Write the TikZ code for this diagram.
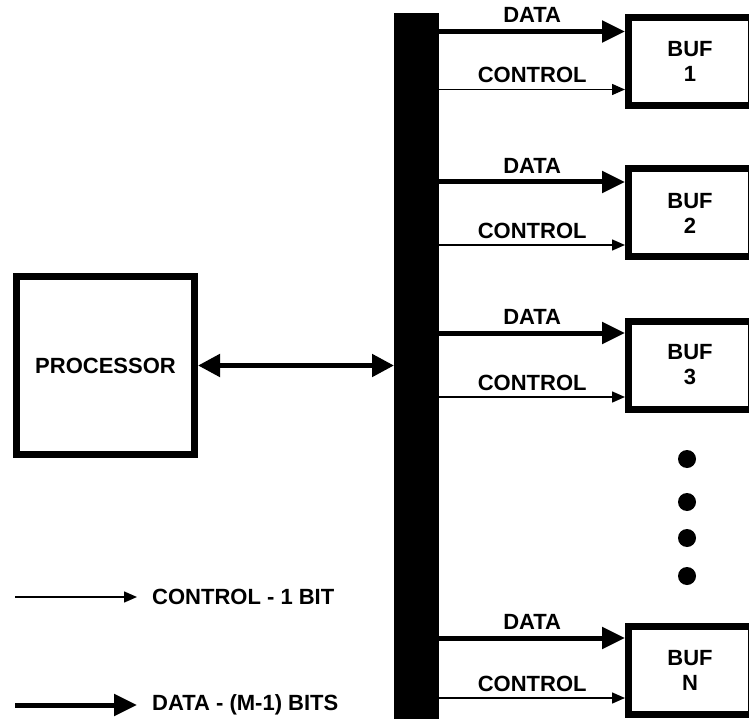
\documentclass[tikz,border=0pt]{standalone}
\usepackage{fontspec}
\setmainfont{Liberation Sans}
\usetikzlibrary{positioning,arrows.meta}

\begin{document}
\begin{tikzpicture}[x=1pt,y=-1pt,
  font=\fontsize{22}{25}\selectfont\bfseries,
  proc box/.style={draw,line width=7pt,minimum width=178pt,minimum height=178pt},
  buf box/.style={draw,line width=7pt,minimum width=123pt,minimum height=88pt,align=center},
  data/.style={line width=5pt,-{Triangle[length=23pt,width=21pt]}},
  control/.style={line width=1.5pt,-{Triangle[length=13pt,width=11pt]}},
  sig label/.style={above=6pt,inner sep=0pt},
  dot/.style={circle,fill,minimum size=18pt,inner sep=0pt}]

  \useasboundingbox (0,0) rectangle (749,719);
  \clip (0,0) rectangle (749,719);

  \node[fill=black,anchor=north west,minimum width=45pt,minimum height=720pt,inner sep=0pt] (bus) at (394,13) {};
  \node[proc box] (proc) at (105.5,365.5) {PROCESSOR};

  \node[buf box] (buf1) at (690,61.5) {BUF\\1};
  \node[buf box] (buf2) at (690,213) {BUF\\2};
  \node[buf box] (buf3) at (690,365) {BUF\\3};
  \node[buf box] (bufn) at (690,670) {BUF\\N};

  \node[dot] (dot1) at (687,459) {};
  \node[dot] (dot2) at (687,502) {};
  \node[dot] (dot3) at (687,538) {};
  \node[dot] (dot4) at (687,576) {};

  \coordinate (d1) at ([yshift=30pt]buf1.west);
  \coordinate (c1) at ([yshift=-28pt]buf1.west);
  \coordinate (d2) at ([yshift=31pt]buf2.west);
  \coordinate (c2) at ([yshift=-32pt]buf2.west);
  \coordinate (d3) at ([yshift=32pt]buf3.west);
  \coordinate (c3) at ([yshift=-32pt]buf3.west);
  \coordinate (dn) at ([yshift=32pt]bufn.west);
  \coordinate (cn) at ([yshift=-28pt]bufn.west);

  \path
    (proc.east) edge [data,{Triangle[length=22pt,width=22pt]}-{Triangle[length=22pt,width=22pt]}] (bus.west |- proc.east)
    (bus.east |- d1) edge [data] node [sig label] {DATA} (d1)
    (bus.east |- c1) edge [control] node [sig label] {CONTROL} (c1)
    (bus.east |- d2) edge [data] node [sig label] {DATA} (d2)
    (bus.east |- c2) edge [control] node [sig label] {CONTROL} (c2)
    (bus.east |- d3) edge [data] node [sig label] {DATA} (d3)
    (bus.east |- c3) edge [control] node [sig label] {CONTROL} (c3)
    (bus.east |- dn) edge [data] node [sig label] {DATA} (dn)
    (bus.east |- cn) edge [control] node [sig label] {CONTROL} (cn);

  % legend
  \coordinate (lc0) at (15,597);
  \coordinate (lc1) at (137,597);
  \coordinate (ld0) at (15,705);
  \coordinate (ld1) at (137,705);
  \node[right=15pt of lc1,inner sep=0pt] (lgctl) {CONTROL - 1 BIT};
  \node[right=15pt of ld1,inner sep=0pt] (lgdata) {DATA - (M-1) BITS};
  \draw[control] (lc0) -- (lc1);
  \draw[data] (ld0) -- (ld1);
\end{tikzpicture}
\end{document}
